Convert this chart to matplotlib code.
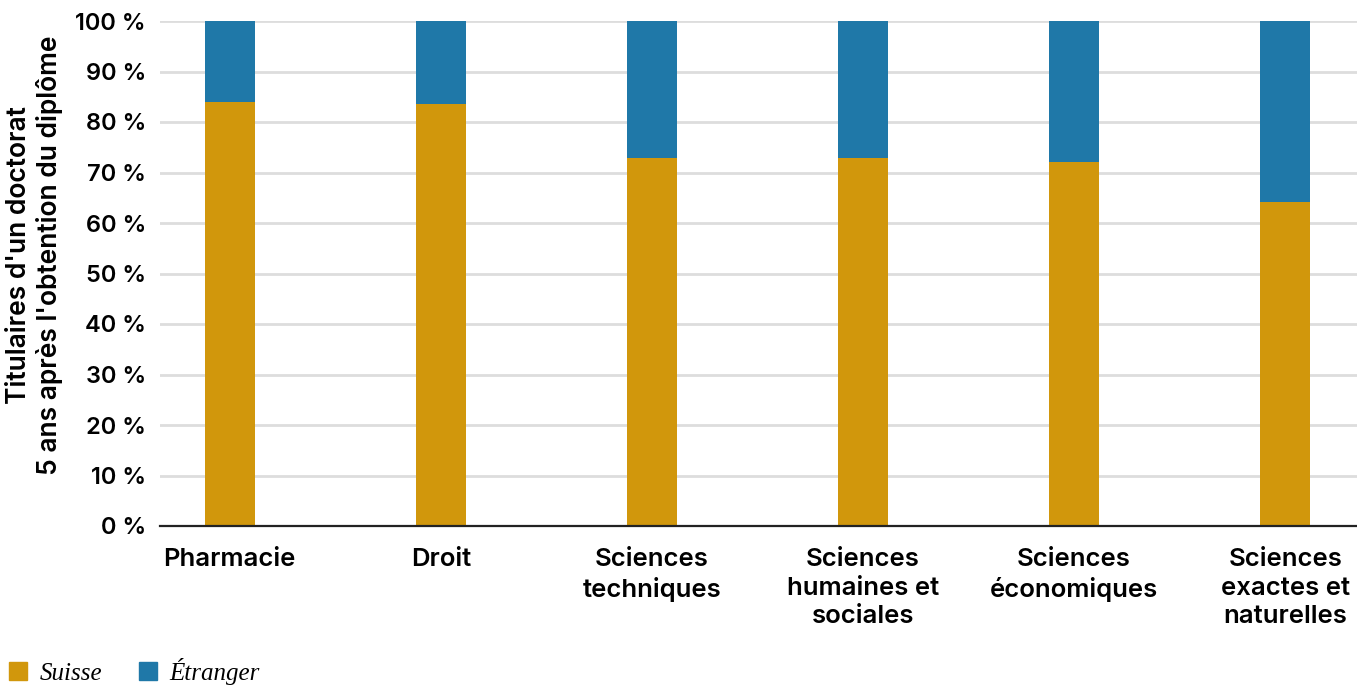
import matplotlib

matplotlib.use("Agg")
import matplotlib.pyplot as plt
from matplotlib.patches import Patch

# --- data ------------------------------------------------------------- #
categories = [
    "Pharmacie",
    "Droit",
    "Sciences\ntechniques",
    "Sciences\nhumaines et\nsociales",
    "Sciences\néconomiques",
    "Sciences\nexactes et\nnaturelles",
]
suisse = [84.0, 83.6, 72.9, 72.9, 72.1, 64.2]
etranger = [100 - v for v in suisse]
yticks = list(range(0, 101, 10))

C_SUISSE = "#d1970c"
C_ETRANGER = "#1f78a8"
FONT = "Inter"

fig = plt.figure(figsize=(13.57, 6.85), dpi=100)
ax = fig.add_axes([160 / 1357, 1 - 526 / 685, 1197 / 1357, 505 / 685])

x = list(range(len(categories)))
ax.bar(x, suisse, width=0.237, color=C_SUISSE, zorder=3)
ax.bar(x, etranger, width=0.237, bottom=suisse, color=C_ETRANGER, zorder=3)

ax.set_xlim(-0.33, 5.34)
ax.set_ylim(0, 100)
ax.set_yticks(yticks)
ax.set_yticklabels([f"{t} %" for t in yticks], fontsize=17,
                   family=FONT, fontweight="semibold")
ax.set_xticks(x)
ax.set_xticklabels(categories, fontsize=18.5, family=FONT,
                   fontweight="semibold", linespacing=1.3, va="top")
ax.tick_params(axis="y", length=0, pad=10)
ax.tick_params(axis="x", length=0, pad=16)

ax.grid(axis="y", color="#dddddd", linewidth=2, zorder=0)
for s in ["top", "right", "left"]:
    ax.spines[s].set_visible(False)
ax.spines["bottom"].set_color("#222222")
ax.spines["bottom"].set_linewidth(1.6)
ax.spines["bottom"].set_zorder(4)

fig.text(0.0255, 1 - 255 / 685,
         "Titulaires d'un doctorat\n5 ans après l'obtention du diplôme",
         rotation=90, ha="center", va="center", fontsize=19,
         family=FONT, fontweight="semibold", linespacing=1.2)

handles = [Patch(color=C_SUISSE, label="Suisse"),
           Patch(color=C_ETRANGER, label="Étranger")]
fig.legend(handles=handles, loc="lower left", bbox_to_anchor=(-0.006, -0.025),
           ncol=2, frameon=False, handlelength=0.7, handleheight=0.7,
           handletextpad=0.5, columnspacing=1.5, borderpad=0.2,
           prop={"family": "Liberation Serif", "style": "italic", "size": 18})

fig.savefig("out.png", dpi=100)
